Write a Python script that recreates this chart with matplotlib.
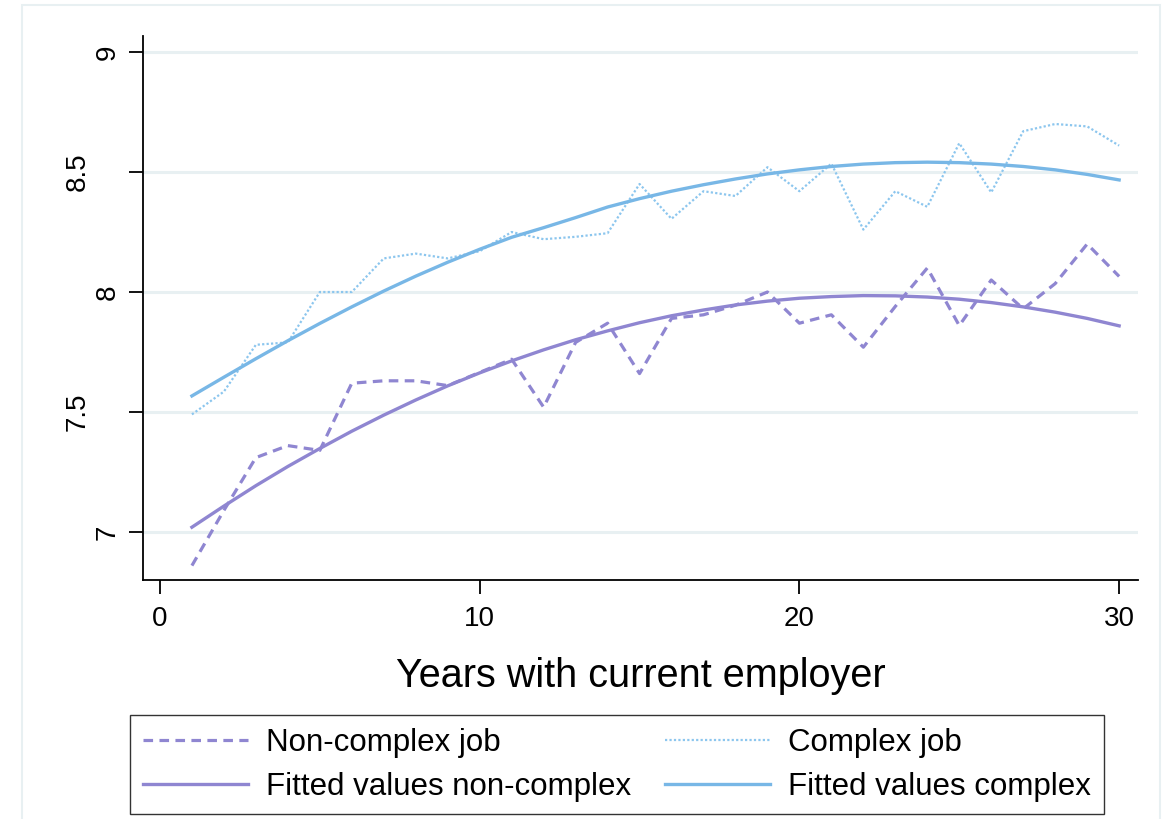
import matplotlib
matplotlib.use("Agg")
import matplotlib.pyplot as plt
from matplotlib.patches import Rectangle
from matplotlib.lines import Line2D

plt.rcParams['font.family'] = ['Liberation Sans', 'DejaVu Sans']

# === DATA ===
years = list(range(1, 31))

non_complex = [6.86, 7.09, 7.31, 7.36, 7.34, 7.62, 7.63, 7.63, 7.61, 7.665,
               7.72, 7.52, 7.79, 7.87, 7.66, 7.89, 7.905, 7.945, 8.00, 7.87,
               7.905, 7.77, 7.94, 8.10, 7.86, 8.05, 7.93, 8.035, 8.20, 8.065]

complex_job = [7.49, 7.585, 7.78, 7.79, 8.00, 8.00, 8.14, 8.16, 8.14, 8.17,
               8.25, 8.22, 8.23, 8.245, 8.45, 8.305, 8.42, 8.40, 8.52, 8.42,
               8.535, 8.26, 8.42, 8.355, 8.62, 8.415, 8.67, 8.70, 8.69, 8.61]

fit_non_complex = [7.020, 7.108, 7.193, 7.273, 7.348, 7.420, 7.487, 7.550, 7.609, 7.663,
                   7.713, 7.759, 7.801, 7.838, 7.872, 7.901, 7.925, 7.946, 7.962, 7.974,
                   7.981, 7.985, 7.984, 7.979, 7.970, 7.956, 7.938, 7.916, 7.890, 7.859]

fit_complex = [7.567, 7.645, 7.722, 7.797, 7.869, 7.938, 8.004, 8.066, 8.124, 8.178,
               8.228, 8.268, 8.310, 8.354, 8.389, 8.420, 8.447, 8.471, 8.492, 8.509,
               8.523, 8.533, 8.539, 8.541, 8.539, 8.533, 8.523, 8.509, 8.490, 8.467]

xticks = [0, 10, 20, 30]
yticks = [7, 7.5, 8, 8.5, 9]
ytick_labels = ['7', '7.5', '8', '8.5', '9']

purple = '#8f86d1'
blue = '#78b7e6'
blue_light = '#8cc6ee'
grid_col = '#e8f0f2'

# === FIGURE ===
W, H = 1171, 819
fig = plt.figure(figsize=(W / 100, H / 100), dpi=100)
ax = fig.add_axes([143 / W, 1 - 580 / H, (1138 - 143) / W, (580 - 36) / H])

# outer light frame
fig.add_artist(Rectangle((22 / W, -0.05), (1160 - 22) / W, 1.05 - 5 / H,
                         transform=fig.transFigure, fill=False,
                         ec=grid_col, lw=1.5, zorder=0))

for y in yticks:
    ax.axhline(y, color=grid_col, lw=2.2, zorder=0)

ax.plot(years, non_complex, color=purple, lw=2.3, ls=(0, (3, 2)), label='Non-complex job')
ax.plot(years, complex_job, color=blue_light, lw=1.6, ls=(0, (1, 1)), label='Complex job')
ax.plot(years, fit_non_complex, color=purple, lw=2.4, label='Fitted values non-complex')
ax.plot(years, fit_complex, color=blue, lw=2.4, label='Fitted values complex')

ax.set_xlim(-0.53, 30.59)
ax.set_ylim(6.8, 9.0667)

for s in ['top', 'right']:
    ax.spines[s].set_visible(False)
for s in ['left', 'bottom']:
    ax.spines[s].set_linewidth(1.3)

ax.set_xticks(xticks)
ax.set_xticklabels([str(x) for x in xticks])
ax.tick_params(axis='x', length=10, width=1.3, labelsize=20, pad=9)
ax.set_yticks(yticks)
ax.set_yticklabels([])
ax.tick_params(axis='y', length=10, width=1.3)

# rotated y labels (half-steps sit a little further left, as in the original)
ytr = ax.get_yaxis_transform()
for y, lab in zip(yticks, ytick_labels):
    xpos = -0.0658 if '.' in lab else -0.0352
    ax.text(xpos, y, lab, transform=ytr, rotation=90, ha='center', va='center', fontsize=20)

ax.set_xlabel('Years with current employer', fontsize=28.5, labelpad=18)

# === LEGEND ===
h = [Line2D([], [], color=purple, lw=2.3, ls=(0, (3, 2))),
     Line2D([], [], color=purple, lw=2.4),
     Line2D([], [], color=blue_light, lw=1.6, ls=(0, (1, 1))),
     Line2D([], [], color=blue, lw=2.4)]
labels = ['Non-complex job', 'Fitted values non-complex', 'Complex job', 'Fitted values complex']
leg = fig.legend(h, labels, ncol=2, loc='upper left',
                 bbox_to_anchor=(130 / W, 1 - 715 / H), bbox_transform=fig.transFigure,
                 borderaxespad=0, fontsize=22.5, frameon=True, fancybox=False,
                 handlelength=3.36, handletextpad=0.58, columnspacing=1.1,
                 labelspacing=0.45, borderpad=0.4)
leg.get_frame().set_edgecolor('black')
leg.get_frame().set_linewidth(1.0)

plt.savefig('out.png', dpi=100)
